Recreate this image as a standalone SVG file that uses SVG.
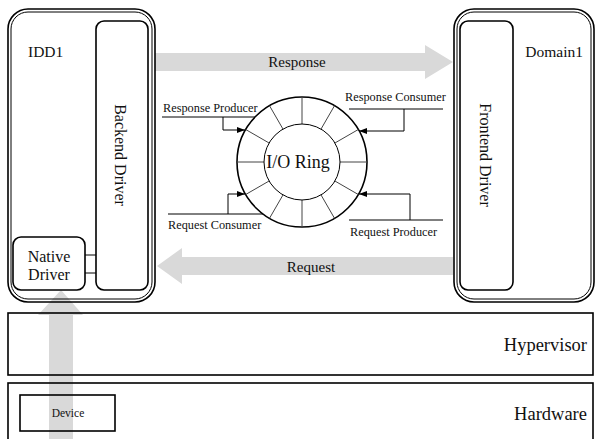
<svg xmlns="http://www.w3.org/2000/svg" width="595" height="439" viewBox="0 0 595 439">
  <style>
    .box { fill: none; stroke: #000; stroke-width: 1.6; }
    .inner { fill: none; stroke: #000; stroke-width: 1; }
    .wbox { fill: #fff; stroke: #000; stroke-width: 1.6; }
    .flow { fill: #d9d9d9; stroke: none; }
    .wire { fill: none; stroke: #000; stroke-width: 1; }
    .spoke { stroke: #444; stroke-width: 1; }
    text { font-family: "Liberation Serif", "Times New Roman", serif; fill: #111; }
  </style>
  <defs>
    <marker id="tip" viewBox="0 0 8 6" refX="8" refY="3" markerWidth="8" markerHeight="6" markerUnits="userSpaceOnUse" orient="auto">
      <path d="M0,0 L8,3 L0,6 Z" fill="#000"/>
    </marker>
  </defs>

  <!-- data flows (drawn beneath the outlines) -->
  <g id="flows">
    <polygon class="flow" points="155,53 425,53 425,45 453,62 425,79 425,71 155,71"/>
    <polygon class="flow" points="453,257 182,257 182,248 157,266 182,284 182,275 453,275"/>
    <polygon class="flow" points="49,439 49,315 38,315 61,290 83,315 73,315 73,439"/>
  </g>

  <!-- platform layers -->
  <g id="hypervisor">
    <rect class="box" x="8" y="313" width="585" height="62"/>
    <text x="587" y="351" font-size="18.5" text-anchor="end">Hypervisor</text>
  </g>
  <g id="hardware">
    <rect class="box" x="8" y="383" width="585" height="70"/>
    <text x="587" y="420" font-size="18.5" text-anchor="end">Hardware</text>
  </g>
  <g id="device">
    <rect class="box" x="20" y="395" width="95" height="36"/>
    <text x="68" y="417" font-size="11.5" text-anchor="middle">Device</text>
  </g>

  <!-- driver domain -->
  <g id="idd1">
    <rect class="box" x="8" y="9" width="147" height="293" rx="20"/>
    <rect class="inner" x="11" y="12" width="141" height="287" rx="17"/>
    <text x="28" y="57" font-size="15.5">IDD1</text>
  </g>
  <g id="backend-driver">
    <rect class="wbox" x="96" y="21" width="52" height="269" rx="8"/>
    <text transform="translate(115,155) rotate(90)" font-size="16" text-anchor="middle">Backend Driver</text>
  </g>
  <g id="native-driver">
    <rect class="wbox" x="13" y="237" width="72" height="53" rx="8"/>
    <text x="49" y="262" font-size="16" text-anchor="middle">Native</text>
    <text x="49" y="280" font-size="16" text-anchor="middle">Driver</text>
  </g>

  <!-- guest domain -->
  <g id="domain1">
    <rect class="box" x="454" y="9" width="140" height="293" rx="20"/>
    <rect class="inner" x="457" y="12" width="134" height="287" rx="17"/>
    <text x="583" y="57" font-size="15.5" text-anchor="end">Domain1</text>
  </g>
  <g id="frontend-driver">
    <rect class="wbox" x="460" y="21" width="53" height="269" rx="8"/>
    <text transform="translate(480,155) rotate(90)" font-size="16" text-anchor="middle">Frontend Driver</text>
  </g>

  <!-- shared ring buffer -->
  <g id="io-ring">
    <circle cx="302" cy="162" r="65" fill="#fff" stroke="#000" stroke-width="1.6"/>
    <g class="spoke">
      <line x1="367" y1="162" x2="340" y2="162"/>
      <line x1="358.3" y1="129.5" x2="334.9" y2="143"/>
      <line x1="334.5" y1="105.7" x2="321" y2="129.1"/>
      <line x1="302" y1="97" x2="302" y2="124"/>
      <line x1="269.5" y1="105.7" x2="283" y2="129.1"/>
      <line x1="245.7" y1="129.5" x2="269.1" y2="143"/>
      <line x1="237" y1="162" x2="264" y2="162"/>
      <line x1="245.7" y1="194.5" x2="269.1" y2="181"/>
      <line x1="269.5" y1="218.3" x2="283" y2="194.9"/>
      <line x1="302" y1="227" x2="302" y2="200"/>
      <line x1="334.5" y1="218.3" x2="321" y2="194.9"/>
      <line x1="358.3" y1="194.5" x2="334.9" y2="181"/>
    </g>
    <circle cx="302" cy="162" r="38" fill="#fff" stroke="#000" stroke-width="1"/>
    <text x="298" y="168" font-size="18" text-anchor="middle">I/O Ring</text>
  </g>

  <!-- producer / consumer pointers -->
  <g id="connectors">
    <line class="wire" x1="162" y1="117" x2="255" y2="117"/>
    <polyline class="wire" points="223,117 223,130 245,130" marker-end="url(#tip)"/>
    <line class="wire" x1="349" y1="109" x2="443" y2="109"/>
    <polyline class="wire" points="404,109 404,131 359,131" marker-end="url(#tip)"/>
    <line class="wire" x1="168" y1="214" x2="263" y2="214"/>
    <polyline class="wire" points="228,214 228,194 245,194" marker-end="url(#tip)"/>
    <line class="wire" x1="349" y1="220" x2="443" y2="220"/>
    <polyline class="wire" points="410,220 410,194 359,194" marker-end="url(#tip)"/>
    <line class="wire" x1="85" y1="255" x2="96" y2="255"/>
    <line class="wire" x1="85" y1="273" x2="96" y2="273"/>
  </g>

  <g id="labels">
    <text x="297" y="67" font-size="15" text-anchor="middle">Response</text>
    <text x="311" y="272" font-size="15" text-anchor="middle">Request</text>
    <text x="163" y="112" font-size="12.3">Response Producer</text>
    <text x="345" y="101" font-size="12.3">Response Consumer</text>
    <text x="168" y="229" font-size="12.3">Request Consumer</text>
    <text x="350" y="236" font-size="12.3">Request Producer</text>
  </g>
</svg>
